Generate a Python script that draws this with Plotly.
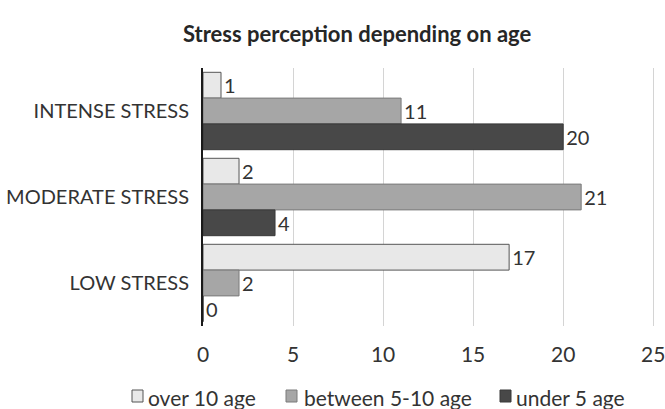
import plotly.graph_objects as go

categories = ["INTENSE STRESS", "MODERATE STRESS", "LOW STRESS"]
over_10 = [1, 2, 17]
between_5_10 = [11, 21, 2]
under_5 = [20, 4, 0]
series_names = ["over 10 age", "between 5-10 age", "under 5 age"]
x_ticks = [0, 5, 10, 15, 20, 25]

FONT = "Lato"
fills = ["#e8e8e8", "#a6a6a6", "#484848"]
edges = ["#555555", "#7a7a7a", "#383838"]

W, H = 665, 409
L, R, T, B = 203, 10, 68, 83
PW, PH = W - L - R, H - T - B


def px_x(p):
    return (p - L) / PW


def px_y(p):
    return (H - B - p) / PH


fig = go.Figure()
for name, vals, fc, ec in zip(series_names, [over_10, between_5_10, under_5], fills, edges):
    fig.add_trace(go.Bar(
        y=categories, x=vals, orientation="h", name=name,
        marker=dict(color=fc, line=dict(color=ec, width=1)),
        text=vals, texttemplate="%{x}", textposition="outside",
        textfont=dict(family=FONT, size=20, color="#333333"),
        cliponaxis=False, showlegend=False,
    ))

# custom legend (small squares directly before the labels, as in the reference)
legend_sq_left = [132, 286, 500]
legend_txt_left = [146, 302, 514]
legend_cy = 397
for name, fc, ec, sx, tx in zip(series_names, fills, edges, legend_sq_left, legend_txt_left):
    fig.add_shape(type="rect", xref="paper", yref="paper",
                  x0=px_x(sx), x1=px_x(sx + 11),
                  y0=px_y(legend_cy + 5), y1=px_y(legend_cy - 7),
                  fillcolor=fc, line=dict(color=ec, width=1))
    fig.add_annotation(text=name, xref="paper", yref="paper",
                       x=px_x(tx), y=px_y(legend_cy), xanchor="left", yanchor="middle",
                       showarrow=False, font=dict(family=FONT, size=21, color="#333333"))

fig.update_layout(
    width=W, height=H,
    margin=dict(l=L, r=R, t=T, b=B),
    paper_bgcolor="white", plot_bgcolor="white",
    barmode="group", bargap=0.1, bargroupgap=0,
    showlegend=False,
    font=dict(family=FONT, size=20, color="#333333"),
    title=dict(text="<b>Stress perception depending on age</b>",
               font=dict(family=FONT, size=22, color="#262626"),
               xref="container", x=0.537, xanchor="center",
               yref="container", y=1 - 34 / H, yanchor="middle"),
    xaxis=dict(range=[0, 25.1], tickvals=x_ticks, showgrid=True, gridcolor="#d4d4d4",
               gridwidth=1, zeroline=False, showline=False, ticks="", automargin=False,
               ticklabeloverflow="allow",
               ticklabelstandoff=14, tickfont=dict(family=FONT, size=21, color="#333333")),
    yaxis=dict(autorange="reversed", showline=True, linecolor="#1a1a1a", linewidth=2,
               ticks="", ticklabelstandoff=8, showgrid=False, automargin=False,
               tickfont=dict(family=FONT, size=20, color="#333333")),
)

fig.write_html("out.html")
